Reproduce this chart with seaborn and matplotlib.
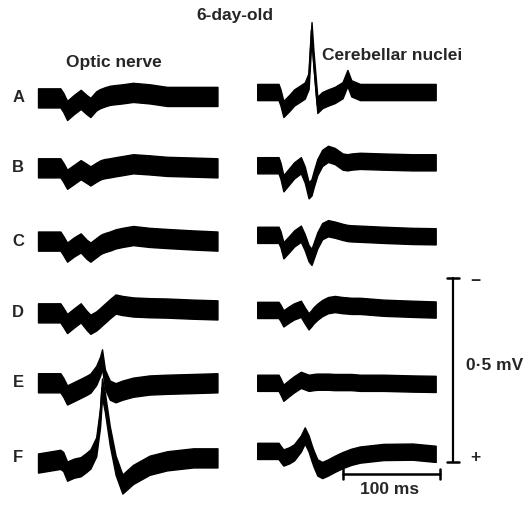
import numpy as np
import matplotlib
matplotlib.use("Agg")
import matplotlib.pyplot as plt
import seaborn as sns

# Sweep times (ms) and mean trace voltage (mV, relative to the baseline of each row)
optic_t = [0, 23, 26, 30, 37, 44, 50, 54, 60, 64, 66, 69, 74, 80, 87, 98, 115, 133, 160, 185]
optic_A = [0, 0, -0.012, -0.034, -0.018, -0.004, -0.018, -0.026, -0.008, -0.002, 0.0, 0.003,
           0.007, 0.009, 0.011, 0.015, 0.011, 0.004, 0.004, 0.004]
optic_B = [0, 0, -0.012, -0.031, -0.018, -0.005, -0.015, -0.022, -0.012, -0.006, -0.004, -0.002,
           0.0, 0.003, 0.006, 0.011, 0.008, 0.004, 0.002, 0.0]
optic_C = [0, 0, -0.012, -0.030, -0.016, -0.005, -0.022, -0.030, -0.018, -0.010, -0.007, -0.004,
           0.0, 0.006, 0.010, 0.015, 0.010, 0.007, 0.003, 0.0]
optic_D = [0, 0, -0.012, -0.029, -0.014, 0.0, -0.020, -0.031, -0.022, -0.013, -0.008, -0.001,
           0.011, 0.024, 0.020, 0.016, 0.014, 0.013, 0.010, 0.008]
optic_E = [0, 0, -0.012, -0.033, -0.024, -0.015, -0.007, -0.001, 0.020, 0.045, 0.065, 0.010,
           -0.020, -0.027, -0.020, -0.012, -0.006, -0.004, -0.002, 0.0]
optic_F = [-0.014, -0.004, -0.010, -0.036, -0.028, -0.024, -0.012, -0.003, 0.030, 0.110, 0.190,
           0.150, 0.060, -0.020, -0.071, -0.045, -0.020, -0.008, 0.0, 0.0]

cereb_t = [0, 22, 24, 27, 33, 38, 45, 49, 53, 56, 58, 62, 67, 73, 80, 88, 93, 97, 106, 130, 160, 184]
cereb_A = [0, 0, -0.015, -0.046, -0.030, -0.015, -0.003, 0.004, 0.030, 0.168, 0.090, -0.035,
           -0.022, -0.015, -0.008, 0.005, 0.038, 0.010, 0.0, 0.0, 0.0, 0.0]
cereb_B = [0, 0, -0.015, -0.049, -0.030, -0.014, 0.0, -0.025, -0.068, -0.060, -0.040, -0.005,
           0.020, 0.031, 0.025, 0.010, 0.008, 0.010, 0.012, 0.010, 0.008, 0.008]
cereb_C = [0, 0, -0.012, -0.042, -0.025, -0.010, 0.003, -0.020, -0.050, -0.060, -0.045, -0.015,
           0.010, 0.018, 0.014, 0.008, 0.005, 0.004, 0.003, 0.0, -0.003, -0.004]
cereb_D = [0, 0, -0.008, -0.023, -0.012, -0.004, 0.003, -0.015, -0.031, -0.022, -0.015, -0.005,
           0.005, 0.013, 0.016, 0.013, 0.012, 0.011, 0.011, 0.006, 0.003, 0.001]
cereb_E = [0, 0, -0.010, -0.027, -0.014, -0.004, 0.008, 0.004, 0.0, 0.001, 0.002, 0.003,
           0.003, 0.003, 0.002, 0.002, 0.002, 0.002, 0.0, 0.0, -0.002, -0.003]
cereb_F = [0, 0, -0.008, -0.018, -0.012, -0.004, 0.020, 0.042, 0.020, -0.005, -0.020, -0.045,
           -0.052, -0.045, -0.035, -0.025, -0.020, -0.016, -0.010, -0.003, -0.002, -0.008]

row_labels = ["A", "B", "C", "D", "E", "F"]
scale_ms = 100
scale_mv = 0.5

# layout: vertical position of each row (mV) and horizontal start of the right column (ms)
optic_rows = [0.0, -0.190, -0.389, -0.584, -0.774, -0.978]
cereb_rows = [0.016, -0.183, -0.372, -0.576, -0.774, -0.959]
cereb_shift = 226

sns.set_theme(style="white")
plt.rcParams["font.family"] = ["Liberation Sans", "DejaVu Sans"]

fig = plt.figure(figsize=(5.28, 5.05), dpi=100)
ax = fig.add_axes([0, 0, 1, 1])


def draw_trace(t, v, x0, y0, half):
    t = np.asarray(t, dtype=float) + x0
    v = np.asarray(v, dtype=float) + y0
    ax.fill_between(t, v - half, v + half, color="black", lw=1.0, edgecolor="black")
    sns.lineplot(x=t[1:-1], y=v[1:-1], ax=ax, color="black", lw=1.2, sort=False, legend=False)


optic = [optic_A, optic_B, optic_C, optic_D, optic_E, optic_F]
cereb = [cereb_A, cereb_B, cereb_C, cereb_D, cereb_E, cereb_F]
for i, lab in enumerate(row_labels):
    draw_trace(optic_t, optic[i], 0, optic_rows[i], 0.026)
    draw_trace(cereb_t, cereb[i], cereb_shift, cereb_rows[i], 0.022)
    ax.text(-20.5, optic_rows[i], lab, ha="center", va="center",
            fontsize=12, fontweight="bold")

# scale bars
vx, vy = 427.8, -0.489
ax.plot([vx, vx], [vy, vy - scale_mv], color="black", lw=1.6)
for yy in (vy, vy - scale_mv):
    ax.plot([vx - 6, vx + 6], [yy, yy], color="black", lw=1.8)
hx, hy = 314.4, -1.022
ax.plot([hx, hx + scale_ms], [hy, hy], color="black", lw=1.8)
for xx in (hx, hx + scale_ms):
    ax.plot([xx, xx], [hy - 0.014, hy + 0.014], color="black", lw=1.8)

ax.text(450.5, -0.50, "\u2212", ha="center", va="center", fontsize=12.5, fontweight="bold")
ax.text(450.5, -0.978, "+", ha="center", va="center", fontsize=12.5, fontweight="bold")
ax.text(471, -0.726, "0\u00b75 mV", ha="center", va="center", fontsize=12.5, fontweight="bold")
ax.text(362, -1.065, "100 ms", ha="center", va="center", fontsize=12.5, fontweight="bold")

ax.text(203, 0.223, "6-day-old", ha="center", va="center", fontsize=12.5, fontweight="bold")
ax.text(78.4, 0.095, "Optic nerve", ha="center", va="center", fontsize=12.5, fontweight="bold")
ax.text(365, 0.114, "Cerebellar nuclei", ha="center", va="center", fontsize=12.5, fontweight="bold")

ax.set_xlim(-39.2, 505.2)
ax.set_ylim(-1.106, 0.266)
ax.axis("off")

fig.savefig("out.png", dpi=100, facecolor="white")
